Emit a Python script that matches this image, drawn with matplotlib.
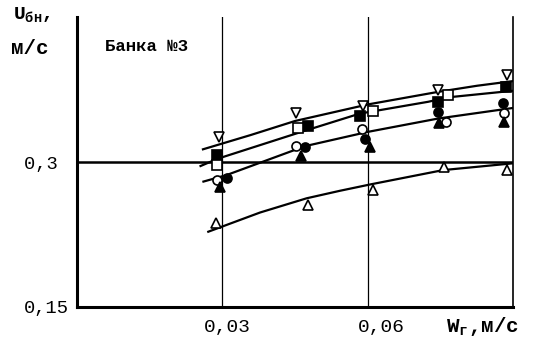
import matplotlib.pyplot as plt
from matplotlib.transforms import ScaledTranslation

# measured points (Wг, м/с ; Uбн, м/с)
x_tri_down = [0.0293, 0.0452, 0.0590, 0.0745, 0.0888]
y_tri_down = [0.326, 0.351, 0.358, 0.3745, 0.390]
x_sq_fill = [0.0290, 0.0477, 0.0585, 0.0745, 0.0886]
y_sq_fill = [0.307, 0.337, 0.348, 0.362, 0.3776]
x_sq_open = [0.0288, 0.0457, 0.0611, 0.0766]
y_sq_open = [0.297, 0.335, 0.353, 0.369]
x_circ_open = [0.0288, 0.0452, 0.0588, 0.0762, 0.0881]
y_circ_open = [0.281, 0.317, 0.334, 0.341, 0.3507]
x_circ_fill = [0.0310, 0.0471, 0.0595, 0.0745, 0.0879]
y_circ_fill = [0.283, 0.316, 0.324, 0.352, 0.361]
x_tri_fill = [0.0295, 0.0462, 0.0605, 0.0747, 0.0881]
y_tri_fill = [0.274, 0.306, 0.316, 0.340, 0.3414]
x_tri_open = [0.0287, 0.0477, 0.0611, 0.0758, 0.0888]
y_tri_open = [0.237, 0.256, 0.271, 0.295, 0.2917]

# hand-drawn trend curves
cx1 = [0.0260, 0.0358, 0.0450, 0.0601, 0.0746, 0.0826, 0.0900]
cy1 = [0.3132, 0.3279, 0.3425, 0.3597, 0.3727, 0.3790, 0.3838]
cx2 = [0.0255, 0.0290, 0.0464, 0.0584, 0.0725, 0.0766, 0.0900]
cy2 = [0.2959, 0.3034, 0.3314, 0.3502, 0.3624, 0.3670, 0.3738]
cx3 = [0.0261, 0.0309, 0.0471, 0.0601, 0.0746, 0.0900]
cy3 = [0.2798, 0.2866, 0.3165, 0.3313, 0.3451, 0.3560]
cx4 = [0.0271, 0.0378, 0.0474, 0.0543, 0.0605, 0.0756, 0.0900]
cy4 = [0.2279, 0.2478, 0.2625, 0.2703, 0.2768, 0.2917, 0.2987]

font = 'Liberation Mono'

fig = plt.figure(figsize=(5.36, 3.43), dpi=100)
ax = fig.add_axes([0.1437, 0.105, 0.8133, 0.845])
ax.set_xlim(0, 0.09)
ax.set_ylim(0.15, 0.45)

ax.axhline(0.3, color='black', lw=1.8, zorder=1)
for xv in [0.03, 0.06]:
    ax.axvline(xv, color='black', lw=0.9, zorder=1)

for cx, cy in [(cx1, cy1), (cx2, cy2), (cx3, cy3), (cx4, cy4)]:
    ax.plot(cx, cy, color='black', lw=1.6, zorder=2)

mk = dict(ls='none', ms=6.5, mec='black', mew=1.2, zorder=3)
ax.plot(x_tri_down, y_tri_down, marker='v', mfc='white', **mk)
ax.plot(x_sq_fill, y_sq_fill, marker='s', mfc='black', **mk)
ax.plot(x_sq_open, y_sq_open, marker='s', mfc='white', **mk)
ax.plot(x_circ_open, y_circ_open, marker='o', mfc='white', **mk)
ax.plot(x_circ_fill, y_circ_fill, marker='o', mfc='black', **mk)
ax.plot(x_tri_fill, y_tri_fill, marker='^', mfc='black', **mk)
ax.plot(x_tri_open, y_tri_open, marker='^', mfc='white', **mk)

ax.spines['top'].set_visible(False)
ax.spines['left'].set_linewidth(2.2)
ax.spines['bottom'].set_linewidth(2.2)
ax.spines['right'].set_linewidth(1.2)

ax.set_xticks([0.03, 0.06])
ax.set_xticklabels(['0,03', '0,06'], family=font, fontsize=14)
ax.set_yticks([0.15, 0.3])
ax.set_yticklabels(['0,15', '0,3 '], family=font, fontsize=13.5)
ax.tick_params(length=0)
ax.tick_params(axis='x', pad=9)
ax.tick_params(axis='y', pad=6)
# labels sit a little right of their grid lines in the original
for lab, dx in zip(ax.get_xticklabels(), [5, 14]):
    lab.set_transform(lab.get_transform() + ScaledTranslation(dx / 100, 0, fig.dpi_scale_trans))

fig.text(0.025, 0.955, 'U$_{\\mathregular{бн}}$,', family=font, fontsize=14,
         fontweight='bold', va='center')
fig.text(0.020, 0.86, 'м/с', family=font, fontsize=15, fontweight='bold', va='center')
fig.text(0.832, 0.049, 'W$_{\\mathregular{г}}$,м/с', family=font, fontsize=15,
         fontweight='bold', va='center')
ax.text(0.0058, 0.4195, 'Банка №3', family=font, fontsize=12.5, fontweight='bold',
        va='center')

fig.savefig('out.png', dpi=100)
